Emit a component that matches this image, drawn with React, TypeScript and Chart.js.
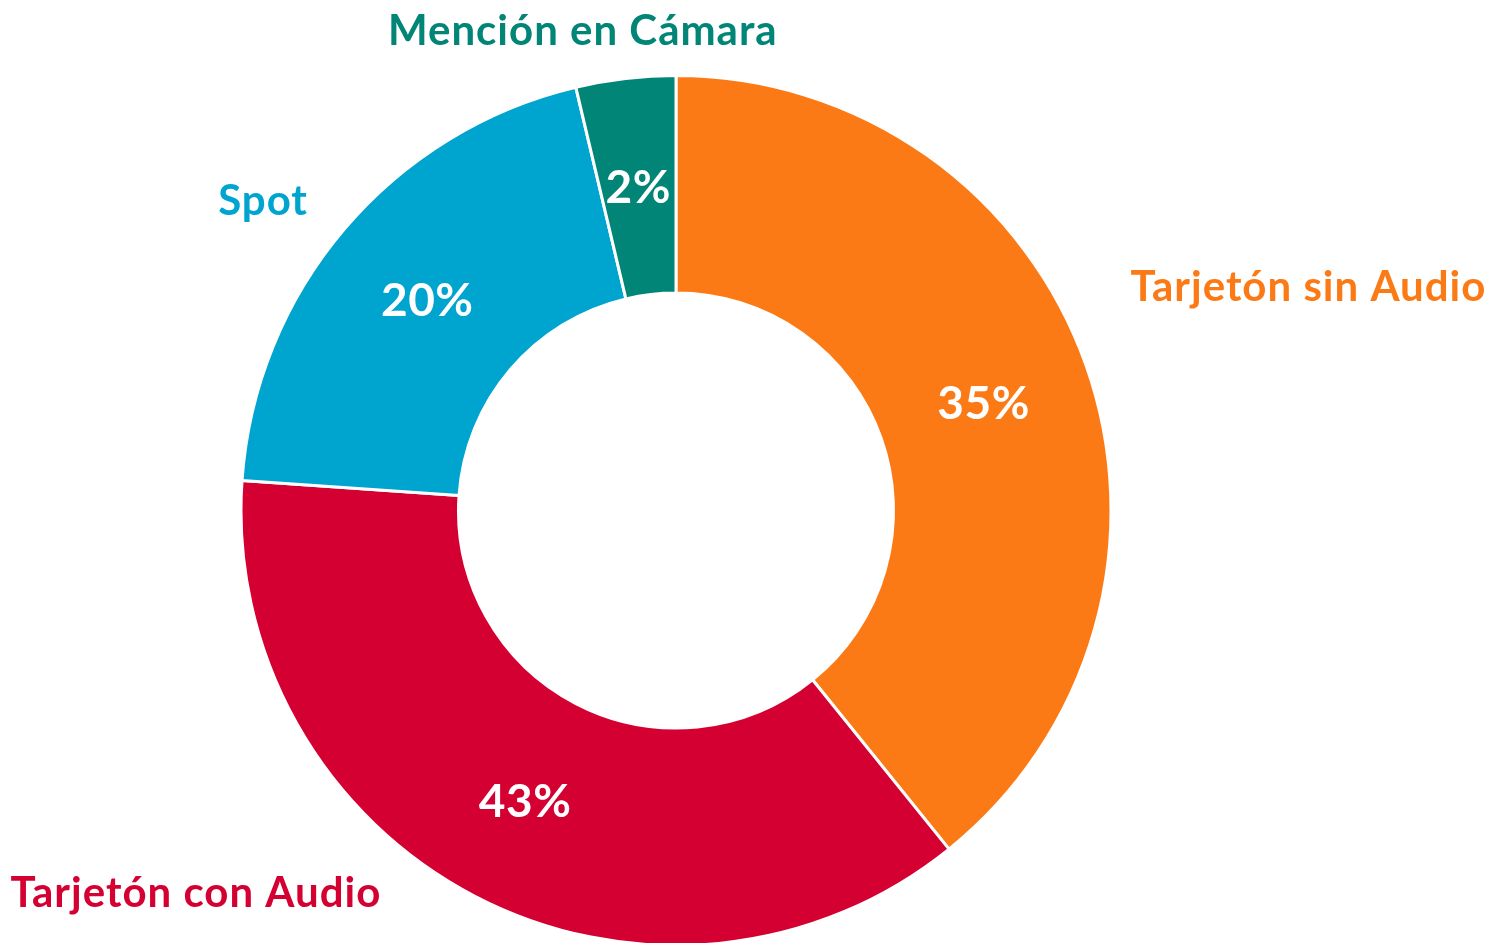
import React, { useEffect, useRef } from "react";
import { Chart, registerables } from "chart.js";

Chart.register(...registerables);

const categories = ["Tarjetón sin Audio", "Tarjetón con Audio", "Spot", "Mención en Cámara"];
// slice sizes as drawn (share of the circle, %)
const sliceValues = [39.2, 36.9, 20.2, 3.7];
// percentage text printed on each slice
const percentLabels = ["35%", "43%", "20%", "2%"];
const colors = ["#FC7A16", "#D50032", "#00A5CF", "#008576"];

const FONT = "Lato, 'Open Sans', sans-serif";

const labelPlugin = {
  id: "sliceLabels",
  afterDraw(chart: any) {
    const ctx = chart.ctx;
    const meta = chart.getDatasetMeta(0);
    ctx.save();
    ctx.textAlign = "center";
    ctx.textBaseline = "middle";
    ctx.fillStyle = "#ffffff";
    ctx.font = `bold 46px ${FONT}`;
    (ctx as any).letterSpacing = "0.5px";
    meta.data.forEach((arc: any, i: number) => {
      const p = arc.tooltipPosition();
      ctx.fillText(percentLabels[i], p.x, p.y + 2);
    });
    // category names outside the ring
    const a0 = meta.data[0];
    const cx = a0.x;
    const cy = a0.y;
    const R = a0.outerRadius;
    const offsets = [
      [631 / 434, -223 / 434],
      [-479 / 434, 382 / 434],
      [-412 / 434, -308 / 434],
      [-93 / 434, -478 / 434],
    ];
    ctx.font = `bold 42px ${FONT}`;
    (ctx as any).letterSpacing = "1px";
    categories.forEach((c, i) => {
      ctx.fillStyle = colors[i];
      ctx.fillText(c, cx + offsets[i][0] * R, cy + offsets[i][1] * R);
    });
    ctx.restore();
  },
};

export default function App() {
  const ref = useRef<HTMLCanvasElement>(null);
  useEffect(() => {
    document.body.style.margin = "0";
    const chart = new Chart(ref.current!, {
      type: "doughnut",
      data: {
        labels: categories,
        datasets: [
          {
            data: sliceValues,
            backgroundColor: colors,
            borderColor: "#ffffff",
            borderWidth: 3,
          },
        ],
      },
      options: {
        animation: false,
        responsive: false,
        devicePixelRatio: 1,
        radius: 435,
        cutout: "50%",
        layout: { padding: { left: 241, right: 383, top: 78, bottom: 0 } },
        plugins: {
          legend: { display: false },
          tooltip: { enabled: false },
        },
      } as any,
      plugins: [labelPlugin],
    });
    return () => chart.destroy();
  }, []);
  return (
    <div style={{ position: "fixed", left: 0, top: 0, width: 1494, height: 943, background: "#fff" }}>
      <canvas ref={ref} width={1494} height={943} />
    </div>
  );
}
